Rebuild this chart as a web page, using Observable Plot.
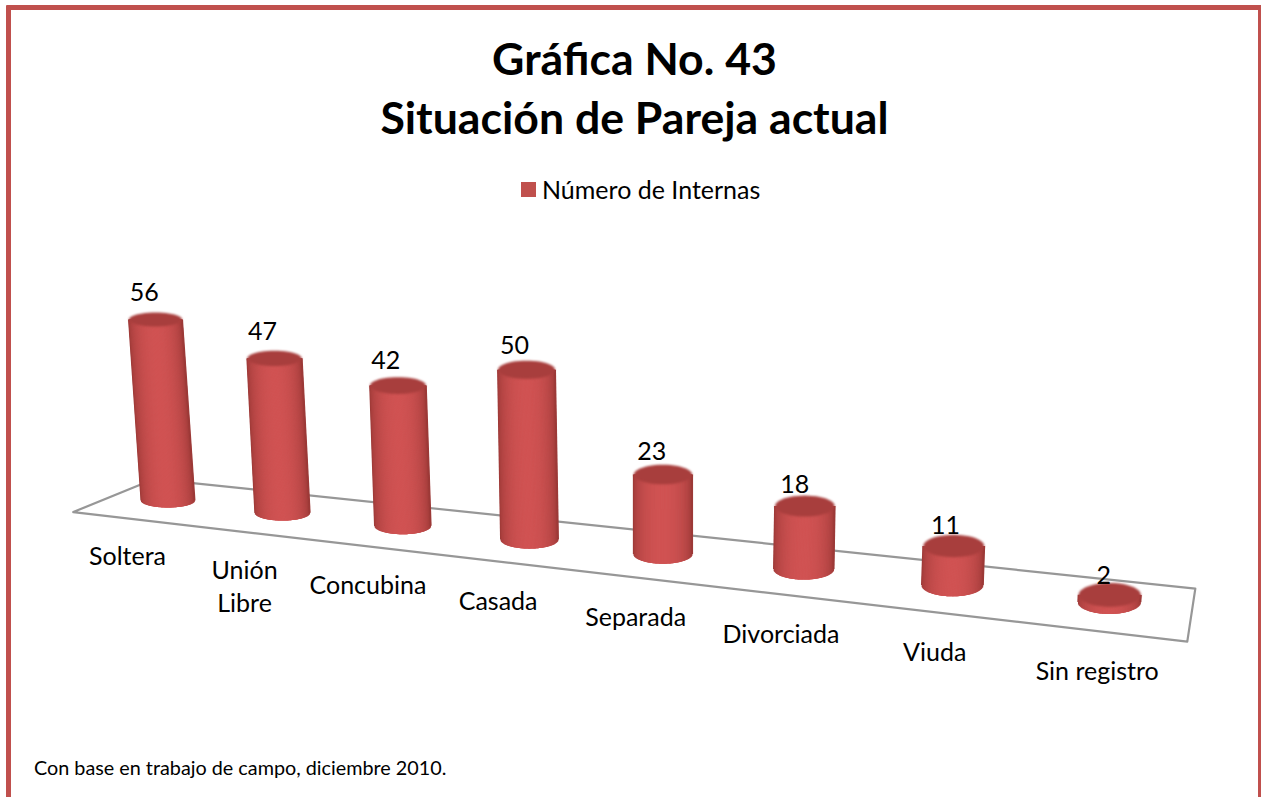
<!DOCTYPE html>
<html lang="es">
<head>
<meta charset="utf-8">
<script src="https://cdn.jsdelivr.net/npm/d3@7"></script>
<script src="https://cdn.jsdelivr.net/npm/@observablehq/plot@0.6"></script>
<style>
  html, body { margin: 0; padding: 0; background: #fff; overflow: hidden; }
  #page { position: relative; width: 1261px; height: 797px; overflow: hidden; font-family: Lato, "Open Sans", sans-serif; color: #000; }
  #frame { position: absolute; left: 6px; top: 5px; width: 1257px; height: 810px; border: 5.5px solid #C0504D; box-sizing: border-box; border-radius: 1px; }
  #chart { position: absolute; left: 0; top: 0; }
  #title { position: absolute; left: 0; width: 1269px; top: 28px; margin: 0; text-align: center; font-size: 44.6px; line-height: 59px; font-weight: 700; }
  #legend { position: absolute; left: 521px; top: 174px; display: flex; align-items: center; gap: 6px; font-size: 25px; line-height: 30px; }
  #legend i { display: block; width: 15px; height: 15px; background: #C0504D; }
  #note { position: absolute; left: 34px; top: 756px; font-size: 19.8px; line-height: 22px; white-space: nowrap; }
</style>
</head>
<body>
<div id="page">
  <div id="frame"></div>
  <div id="chart"></div>
  <h1 id="title">Gráfica No. 43<br>Situación de Pareja actual</h1>
  <div id="legend"><i></i><span>Número de Internas</span></div>
  <div id="note">Con base en trabajo de campo, diciembre 2010.</div>
</div>
<script>
const categories = ["Soltera", "Unión\nLibre", "Concubina", "Casada", "Separada", "Divorciada", "Viuda", "Sin registro"];
const values = [56, 47, 42, 50, 23, 18, 11, 2];

// Scales: one x unit is one (perspective-warped) category slot, one y unit is one "interna".
const W = 1261, H = 797;
const pxX = 111.2, pxY = 3.2, originX = 167.5, originY = 500;
const px = (p) => p / pxX, py = (p) => p / pxY;

// Oblique projection of the chart's floor and its columns
const warp = (u) => u * (1.005 + 0.02397 * u + 0.000746 * u * u);
const floorAt = (wx) => -3.75 * wx;
const radiusX = (i) => px(26.5 + 0.65 * i);
const radiusY = (i) => py(7 + 0.7 * i);
const rise = (i, v) => v * (1.01 + 0.017 * i);
const lean = (i, v) => px((-0.069 + 0.0172 * i) * rise(i, v) * pxY);

// Floor frame: ends half a slot beyond the first and last category
const floorPoint = ([u, d]) => {
  const s = u + 0.5;
  const wx = warp(u) + px(d * (40.5 - 4.56 * s) + 1 - 0.1 * s);
  return {x: wx, y: floorAt(warp(u)) + py(d * (16.5 + 1.25 * s) - 1 - 0.4 * s)};
};
const floorFrame = [[-0.5, -1], [-0.5, 1], [7.5, 1], [7.5, -1]].map(floorPoint);

const table = values.map((v, i) => {
  const bx = warp(i), by = floorAt(bx);
  return {i, v, cat: categories[i], bx, by, tx: bx + lean(i, v), ty: by + rise(i, v), rx: radiusX(i), ry: radiusY(i)};
});

// Column sides run up to the middle of the cap, so the blurred cap has no gap below it
const strips = table.flatMap((d) => d3.range(-1, 1.001, 1 / 50).map((t) => {
  const s = Math.sqrt(Math.max(0, 1 - t * t));
  return {
    x1: d.bx + d.rx * t, y1: d.by - d.ry * s,
    x2: d.tx + d.rx * t, y2: d.ty,
    shade: Math.pow(s, 1.15)
  };
}));

const caps = table.flatMap((d) => d3.range(0, 2 * Math.PI, Math.PI / 24).map((a) => ({
  cat: d.cat, x: d.tx + d.rx * Math.cos(a), y: d.ty + d.ry * Math.sin(a)
})));

const chart = Plot.plot({
  width: W, height: H,
  margin: 0,
  x: {domain: [px(-originX), px(W - originX)], range: [0, W], axis: null},
  y: {domain: [py(originY), py(originY - H)], range: [0, H], axis: null},
  color: {type: "linear", domain: [0, 1], range: ["#9c3937", "#d05353"]},
  style: {background: "transparent", overflow: "visible"},
  marks: [
    Plot.line(floorFrame, {x: "x", y: "y", curve: "linear-closed", stroke: "#979797", strokeWidth: 2.2, imageFilter: "blur(0.4px)"}),
    Plot.link(strips, {x1: "x1", y1: "y1", x2: "x2", y2: "y2", stroke: "shade", strokeWidth: 2, imageFilter: "blur(0.7px)"}),
    Plot.line(caps, {x: "x", y: "y", z: "cat", curve: "linear-closed", fill: "#a83e3d", stroke: "none", imageFilter: "blur(1px)"}),
    Plot.text(table, {
      x: (d) => d.tx + px(-11.3 - 1.0 * d.i + 0.25 * d.i * d.i),
      y: (d) => d.ty + d.ry + py(20 - 1.8 * d.i),
      text: (d) => String(d.v),
      fontSize: 25, fontFamily: "Lato", fill: "#000"
    }),
    Plot.text(table, {
      x: (d) => d.bx + px(-40.5 + 2.3 * d.i + 0.25 * d.i * d.i),
      y: (d) => d.by - py(40.7 + 2.0 * d.i),
      text: "cat", lineAnchor: "top", lineHeight: 1.32,
      fontSize: 25, fontFamily: "Lato", fill: "#000"
    })
  ]
});
document.getElementById("chart").append(chart);
</script>
</body>
</html>
